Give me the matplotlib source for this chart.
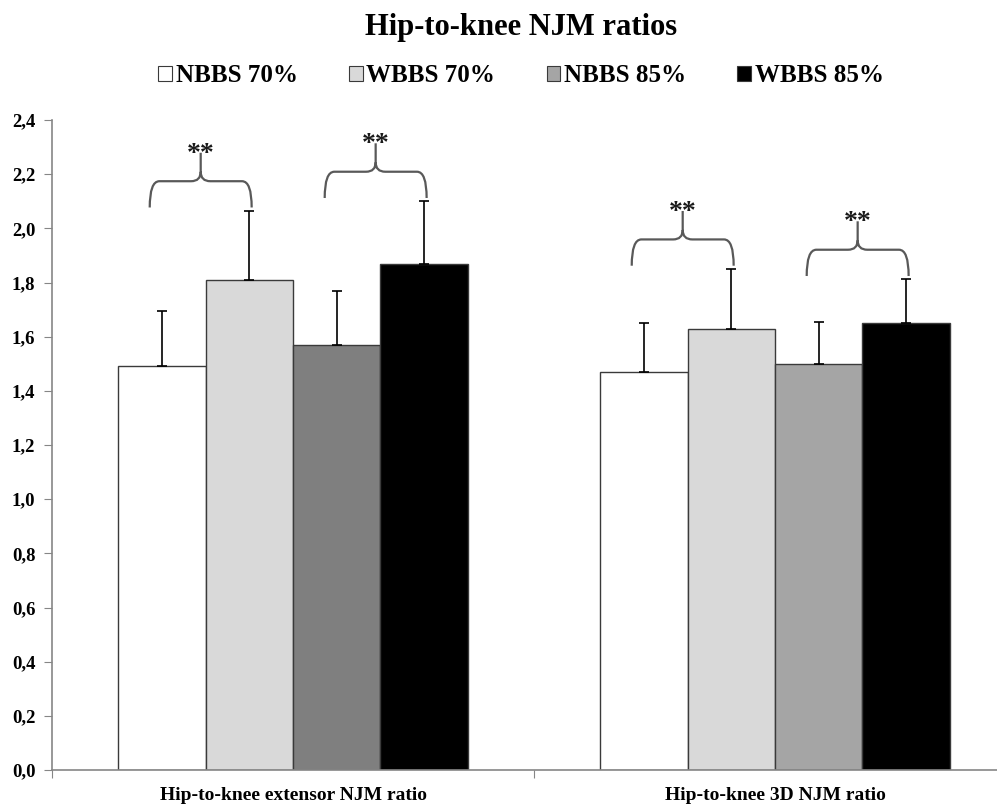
import numpy as np
import matplotlib
matplotlib.use("Agg")
import matplotlib.pyplot as plt
from matplotlib.path import Path
from matplotlib.patches import PathPatch, Patch
from matplotlib.ticker import FuncFormatter

plt.rcParams['font.family'] = ['Liberation Serif', 'DejaVu Serif']
plt.rcParams['font.weight'] = 'bold'

# data
categories = ['Hip-to-knee extensor NJM ratio', 'Hip-to-knee 3D NJM ratio']
series = ['NBBS 70%', 'WBBS 70%', 'NBBS 85%', 'WBBS 85%']
means = [
    [1.49, 1.81, 1.57, 1.87],
    [1.47, 1.63, 1.50, 1.65],
]
sds = [
    [0.205, 0.255, 0.198, 0.230],
    [0.180, 0.220, 0.153, 0.162],
]
# per-bar fills (third bar is darker in the first group)
fills = [
    ['#ffffff', '#d9d9d9', '#7f7f7f', '#000000'],
    ['#ffffff', '#d9d9d9', '#a5a5a5', '#000000'],
]
legend_fills = ['#ffffff', '#d9d9d9', '#a5a5a5', '#000000']
# significant pairs (series indices) in each category
pairs = [(0, 1), (2, 3)]
sig_label = '**'

fig = plt.figure(figsize=(9.97, 8.07), dpi=100)
ax = fig.add_axes([52 / 997, 37 / 807, 964 / 997, 650 / 807])

width = 0.1815
x = np.arange(len(categories))
offsets = (np.arange(len(series)) - 1.5) * width

for ci in range(len(categories)):
    for si in range(len(series)):
        xc = x[ci] + offsets[si]
        ax.bar(xc, means[ci][si], width=width, color=fills[ci][si],
               edgecolor='#3a3a3a', linewidth=1.0, zorder=2)
        ax.errorbar(xc, means[ci][si], yerr=[[0], [sds[ci][si]]],
                    fmt='none', ecolor='black', elinewidth=1.2,
                    capsize=3.6, capthick=1.2, zorder=3)


def brace(ax, xl, xr, yend, rise=0.097, peak=0.105):
    ytop = yend + rise
    xm = (xl + xr) / 2
    r = 0.02
    h = 0.035
    verts = [
        (xl, yend), (xl, ytop), (xl + r, ytop),
        (xm - r, ytop), (xm, ytop), (xm, ytop + h),
        (xm, ytop + peak),
        (xm, ytop + h), (xm, ytop), (xm + r, ytop),
        (xr - r, ytop), (xr, ytop), (xr, yend),
    ]
    codes = [
        Path.MOVETO, Path.CURVE3, Path.CURVE3,
        Path.LINETO, Path.CURVE3, Path.CURVE3,
        Path.LINETO,
        Path.MOVETO, Path.CURVE3, Path.CURVE3,
        Path.LINETO, Path.CURVE3, Path.CURVE3,
    ]
    ax.add_patch(PathPatch(Path(verts, codes), facecolor='none',
                           edgecolor='#595959', linewidth=1.6,
                           clip_on=False, zorder=4))
    return xm, ytop + peak


for ci in range(len(categories)):
    for a, b in pairs:
        tops = [means[ci][k] + sds[ci][k] for k in (a, b)]
        xl = x[ci] + offsets[a] - 0.025
        xr = x[ci] + offsets[b] + 0.005
        xm, yp = brace(ax, xl, xr, max(tops) + 0.012)
        ax.text(xm, yp - 0.03, sig_label, ha='center', va='baseline',
                fontsize=20, fontweight='bold', color='#1a1a1a', zorder=5)

ax.set_xlim(-0.5, 1.5)
ax.set_ylim(0, 2.4)
ax.set_yticks(np.arange(0, 2.41, 0.2))
ax.yaxis.set_major_formatter(FuncFormatter(lambda v, p: f'{v:.1f}'.replace('.', ',')))
ax.set_xticks([-0.5, 0.5, 1.5])
ax.set_xticklabels([])
ax.set_xticks(x, minor=True)
ax.set_xticklabels(categories, minor=True, fontsize=14, fontweight='bold')
ax.tick_params(axis='x', which='minor', length=0, pad=12)
ax.tick_params(axis='x', which='major', length=6, color='#868686')
ax.tick_params(axis='y', length=6, color='#868686', labelsize=13.5, pad=6)

for s in ['top', 'right']:
    ax.spines[s].set_visible(False)
for s in ['left', 'bottom']:
    ax.spines[s].set_color('#868686')
    ax.spines[s].set_linewidth(1.2)

handles = [Patch(facecolor=c, edgecolor='#3a3a3a', linewidth=0.8) for c in legend_fills]
fig.legend(handles, series, loc='center', bbox_to_anchor=(521 / 997, 1 - 76 / 807),
           ncol=4, frameon=False, handlelength=0.55, handleheight=0.55,
           handletextpad=0.15, columnspacing=2.05, prop={'weight': 'bold', 'size': 18})

fig.text(521 / 997, 1 - 27 / 807, 'Hip-to-knee NJM ratios', ha='center', va='center',
         fontsize=22, fontweight='bold')

fig.savefig('out.png', dpi=100)
